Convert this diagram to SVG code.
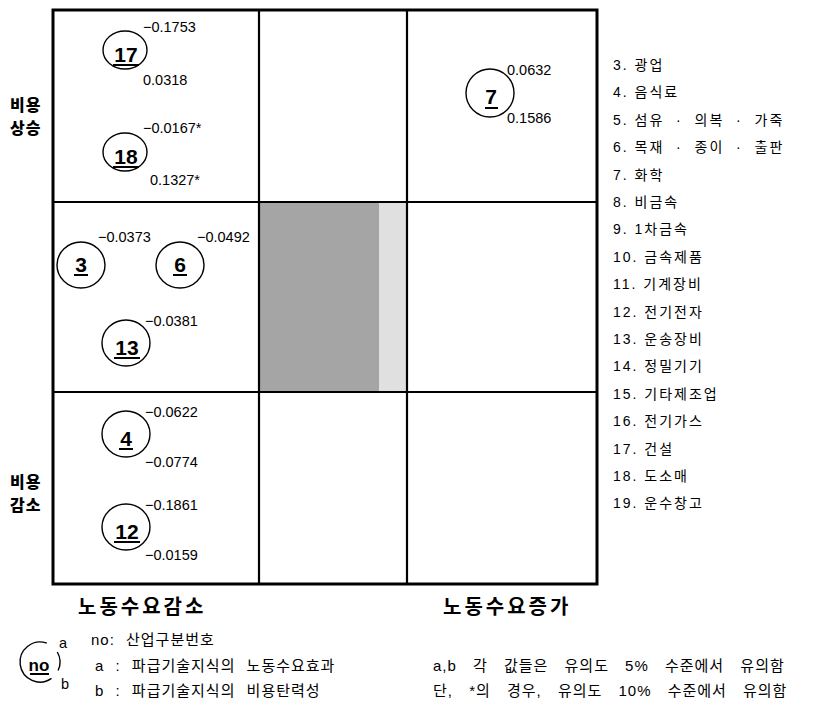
<svg xmlns="http://www.w3.org/2000/svg" width="815" height="711" viewBox="0 0 815 711">
<style>
.frame{fill:none;stroke:#000;stroke-width:3}
.grid line{stroke:#000;stroke-width:2.2}
.node ellipse{fill:none;stroke:#000;stroke-width:1.4}
.num{font-family:"Liberation Sans",Arial,sans-serif;font-size:21px;font-weight:bold;text-anchor:middle}
.ul{stroke:#000;stroke-width:2}
.val{font-family:"Liberation Sans",Arial,sans-serif;font-size:14.5px}
.lab{font-family:"Noto Sans CJK KR",sans-serif;font-weight:900;font-size:16px;letter-spacing:1px}
.axis{font-family:"Noto Sans CJK KR",sans-serif;font-weight:bold;font-size:20px;letter-spacing:3px}
.list{font-family:"Liberation Sans","Noto Sans CJK KR",sans-serif;font-size:14px;letter-spacing:2px}
.leg{font-family:"Liberation Sans","Noto Sans CJK KR",sans-serif;font-size:15px;letter-spacing:1px;word-spacing:6px}
.leg2{font-family:"Liberation Sans","Noto Sans CJK KR",sans-serif;font-size:15px;letter-spacing:1px;word-spacing:11px}
</style>
<rect width="815" height="711" fill="#fff"/>
<g id="shade">
<rect x="260" y="203" width="119" height="188" fill="#a5a5a5"/>
<rect x="379" y="203" width="27" height="188" fill="#e0e0e0"/>
</g>
<g id="grid" class="grid">
<line x1="259" y1="10" x2="259" y2="584"/>
<line x1="407" y1="10" x2="407" y2="584"/>
<line x1="53" y1="202" x2="597" y2="202"/>
<line x1="53" y1="392" x2="597" y2="392"/>
<rect class="frame" x="53" y="10" width="544" height="574"/>
</g>
<g id="node17" class="node">
<ellipse cx="125" cy="50" rx="22" ry="19"/>
<text class="num" x="126" y="62">17</text>
<line class="ul" x1="113" y1="65" x2="139" y2="65"/>
<text class="val" x="143" y="32">−0.1753</text>
<text class="val" x="143" y="85">0.0318</text>
</g>
<g id="node18" class="node">
<ellipse cx="125" cy="152" rx="22" ry="19"/>
<text class="num" x="126" y="164">18</text>
<line class="ul" x1="113" y1="167" x2="139" y2="167"/>
<text class="val" x="143" y="133">−0.0167*</text>
<text class="val" x="150" y="185">0.1327*</text>
</g>
<g id="node7" class="node">
<ellipse cx="490" cy="93" rx="24" ry="24"/>
<text class="num" x="491" y="104">7</text>
<line class="ul" x1="485" y1="108" x2="498" y2="108"/>
<text class="val" x="507" y="75">0.0632</text>
<text class="val" x="507" y="123">0.1586</text>
</g>
<g id="node3" class="node">
<ellipse cx="81" cy="265" rx="24" ry="23"/>
<text class="num" x="81" y="272">3</text>
<line class="ul" x1="74" y1="275" x2="88" y2="275"/>
<text class="val" x="98" y="242">−0.0373</text>
</g>
<g id="node6" class="node">
<ellipse cx="180" cy="265" rx="24" ry="23"/>
<text class="num" x="180" y="272">6</text>
<line class="ul" x1="173" y1="275" x2="187" y2="275"/>
<text class="val" x="197" y="242">−0.0492</text>
</g>
<g id="node13" class="node">
<ellipse cx="126" cy="343" rx="24" ry="23"/>
<text class="num" x="127" y="355">13</text>
<line class="ul" x1="114" y1="358" x2="140" y2="358"/>
<text class="val" x="145" y="326">−0.0381</text>
</g>
<g id="node4" class="node">
<ellipse cx="126" cy="434" rx="24" ry="23"/>
<text class="num" x="126" y="446">4</text>
<line class="ul" x1="119" y1="449" x2="133" y2="449"/>
<text class="val" x="145" y="417">−0.0622</text>
<text class="val" x="145" y="467">−0.0774</text>
</g>
<g id="node12" class="node">
<ellipse cx="126" cy="527" rx="24" ry="23"/>
<text class="num" x="127" y="539">12</text>
<line class="ul" x1="114" y1="542" x2="140" y2="542"/>
<text class="val" x="145" y="510">−0.1861</text>
<text class="val" x="145" y="560">−0.0159</text>
</g>
<g id="rowlabels">
<text class="lab" x="10" y="111">비용</text>
<text class="lab" x="10" y="134">상승</text>
<text class="lab" x="10" y="488">비용</text>
<text class="lab" x="10" y="511">감소</text>
</g>
<g id="axislabels">
<text class="axis" x="78" y="614">노동수요감소</text>
<text class="axis" x="443" y="614">노동수요증가</text>
</g>
<g id="industrylist" class="list">
<text x="613" y="70">3. 광업</text>
<text x="613" y="97.4">4. 음식료</text>
<text x="613" y="124.8">5. 섬유&#160;&#160;·&#160;&#160;의복&#160;&#160;·&#160;&#160;가죽</text>
<text x="613" y="152.2">6. 목재&#160;&#160;·&#160;&#160;종이&#160;&#160;·&#160;&#160;출판</text>
<text x="613" y="179.6">7. 화학</text>
<text x="613" y="207">8. 비금속</text>
<text x="613" y="234.4">9. 1차금속</text>
<text x="613" y="261.8">10. 금속제품</text>
<text x="613" y="289.2">11. 기계장비</text>
<text x="613" y="316.6">12. 전기전자</text>
<text x="613" y="344">13. 운송장비</text>
<text x="613" y="371.4">14. 정밀기기</text>
<text x="613" y="398.8">15. 기타제조업</text>
<text x="613" y="426.2">16. 전기가스</text>
<text x="613" y="453.6">17. 건설</text>
<text x="613" y="481">18. 도소매</text>
<text x="613" y="508.4">19. 운수창고</text>
</g>
<g id="legend">
<path d="M 57.3 652 A 20 20 0 0 1 58.1 670.5" fill="none" stroke="#000" stroke-width="1.4"/>
<path d="M 51.5 678.4 A 20 20 0 1 1 46.8 643.2" fill="none" stroke="#000" stroke-width="1.4"/>
<text class="num" x="39" y="671" style="font-size:17px">no</text>
<line class="ul" x1="30" y1="674" x2="49" y2="674"/>
<text class="val" x="59" y="648">a</text>
<text class="val" x="61" y="689">b</text>
<text class="leg" x="91" y="645">no: 산업구분번호</text>
<text class="leg" x="95" y="671">a : 파급기술지식의 노동수요효과</text>
<text class="leg" x="95" y="696">b : 파급기술지식의 비용탄력성</text>
<text class="leg2" x="433" y="671">a,b 각 값들은 유의도 5% 수준에서 유의함</text>
<text class="leg2" x="433" y="696">단, *의 경우, 유의도 10% 수준에서 유의함</text>
</g>
</svg>
